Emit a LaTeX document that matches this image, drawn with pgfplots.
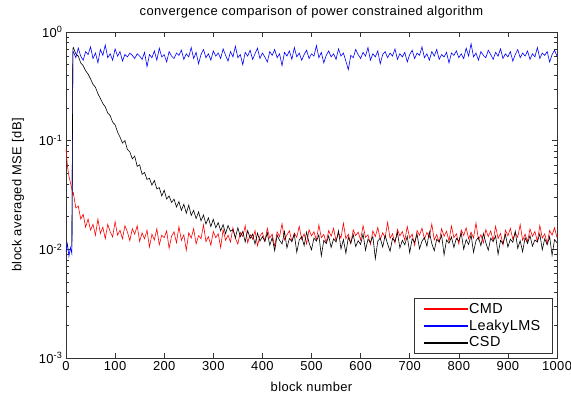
\documentclass[border=0pt]{standalone}
\usepackage{pgfplots}
\pgfplotsset{compat=1.18}
\usepackage{pgfplotstable}
\usepackage{fontspec}
\setmainfont[LetterSpace=3]{Liberation Sans}
\pgfplotstableread{
x cmd lms csd
0 0.085 0.0095 nan
3 0.058 0.0112 nan
6 0.047 0.0086 nan
9 0.041 0.0104 nan
12 0.036 0.0091 0.0105
14 0.032 0.64 0.70
15 0.033 0.66 0.72
20 0.024 0.58 0.63
25 0.025 0.71 0.60
30 0.019 0.60 0.52
35 0.021 0.55 0.49
40 0.016 0.66 0.44
45 0.019 0.62 0.41
50 0.015 0.73 0.37
55 0.017 0.57 0.33
60 0.0135 0.64 0.31
65 0.019 0.52 0.27
70 0.014 0.69 0.245
75 0.016 0.61 0.22
80 0.0125 0.76 0.205
85 0.017 0.58 0.18
90 0.0145 0.63 0.17
95 0.013 0.55 0.148
100 0.018 0.70 0.14
105 0.0135 0.60 0.12
110 0.015 0.66 0.108
115 0.0125 0.54 0.095
120 0.0165 0.62 0.1
125 0.0145 0.59 0.083
130 0.012 0.64 0.079
135 0.0155 0.61 0.068
140 0.0138 0.57 0.072
145 0.0165 0.63 0.058
150 0.0118 0.60 0.06
155 0.0142 0.56 0.049
160 0.0125 0.65 0.051
165 0.015 0.48 0.044
170 0.0105 0.62 0.045
175 0.0138 0.58 0.039
180 0.0122 0.67 0.043
185 0.0155 0.55 0.036
190 0.011 0.71 0.037
195 0.0135 0.59 0.031
200 0.0128 0.62 0.035
205 0.0148 0.53 0.029
210 0.0102 0.66 0.031
215 0.0132 0.60 0.027
220 0.0145 0.57 0.029
225 0.0115 0.64 0.0245
230 0.0162 0.61 0.0275
235 0.0121 0.68 0.0228
240 0.0136 0.56 0.026
245 0.0098 0.63 0.0215
250 0.0142 0.59 0.0255
255 0.0127 0.72 0.0205
260 0.0155 0.57 0.0228
265 0.0112 0.65 0.0192
270 0.0134 0.51 0.0221
275 0.0125 0.62 0.0183
280 0.0168 0.69 0.0207
285 0.0118 0.58 0.0171
290 0.0131 0.63 0.0195
295 0.0109 0.55 0.0162
300 0.0146 0.67 0.0189
305 0.0128 0.60 0.0158
310 0.0139 0.64 0.0176
315 0.0104 0.57 0.0148
320 0.0152 0.70 0.0169
325 0.0121 0.61 0.0139
330 0.0135 0.54 0.0166
335 0.0117 0.66 0.0147
340 0.0158 0.59 0.0152
345 0.0126 0.74 0.0128
350 0.0112 0.58 0.0158
355 0.0143 0.62 0.0131
360 0.0131 0.50 0.0146
365 0.0165 0.65 0.0117
370 0.0115 0.60 0.0149
375 0.0137 0.68 0.0126
380 0.0124 0.56 0.0138
385 0.0149 0.63 0.0112
390 0.0108 0.71 0.0141
395 0.0133 0.57 0.0119
400 0.0142 0.64 0.0131
405 0.0119 0.59 0.0118
410 0.0156 0.53 0.0142
415 0.0127 0.66 0.0109
420 0.0138 0.61 0.0128
425 0.0106 0.69 0.0097
430 0.0145 0.58 0.0135
435 0.0131 0.63 0.0121
440 0.0172 0.49 0.0112
445 0.0122 0.65 0.0146
450 0.0136 0.60 0.0103
455 0.0148 0.67 0.0126
460 0.0118 0.56 0.0118
465 0.0141 0.72 0.0138
470 0.0129 0.59 0.0094
475 0.0163 0.64 0.0122
480 0.0124 0.55 0.0131
485 0.0139 0.62 0.0108
490 0.0112 0.68 0.0144
495 0.0152 0.57 0.0115
500 0.0133 0.63 0.0099
505 0.0145 0.60 0.0127
510 0.0121 0.75 0.0119
515 0.0168 0.58 0.0136
520 0.0128 0.65 0.0087
525 0.0137 0.52 0.0121
530 0.0115 0.61 0.0113
535 0.0149 0.67 0.0133
540 0.0132 0.59 0.0104
545 0.0156 0.63 0.0125
550 0.0119 0.56 0.0117
555 0.0141 0.70 0.0148
560 0.0127 0.60 0.0101
565 0.0174 0.64 0.0123
570 0.0125 0.54 0.0092
575 0.0138 0.45 0.0129
580 0.0113 0.61 0.0114
585 0.0151 0.58 0.0137
590 0.0134 0.69 0.0106
595 0.0144 0.62 0.0120
600 0.0122 0.57 0.0111
605 0.0165 0.65 0.0139
610 0.0129 0.60 0.0098
615 0.0136 0.72 0.0124
620 0.0111 0.55 0.0116
625 0.0148 0.63 0.0131
630 0.0131 0.59 0.0082
635 0.0159 0.67 0.0119
640 0.0123 0.51 0.0127
645 0.0142 0.62 0.0105
650 0.0128 0.66 0.0134
655 0.0177 0.58 0.0112
660 0.0126 0.64 0.0096
665 0.0139 0.60 0.0126
670 0.0114 0.70 0.0118
675 0.0153 0.56 0.0143
680 0.0133 0.63 0.0103
685 0.0146 0.59 0.0121
690 0.0121 0.65 0.0110
695 0.0162 0.53 0.0132
700 0.0127 0.62 0.0093
705 0.0138 0.68 0.0125
710 0.0109 0.57 0.0116
715 0.0149 0.64 0.0138
720 0.0135 0.61 0.0101
725 0.0157 0.73 0.0119
730 0.0124 0.58 0.0128
735 0.0143 0.63 0.0107
740 0.0129 0.55 0.0145
745 0.0171 0.66 0.0113
750 0.0122 0.60 0.0097
755 0.0137 0.69 0.0124
760 0.0116 0.56 0.0117
765 0.0155 0.62 0.0135
770 0.0132 0.59 0.0089
775 0.0147 0.65 0.0122
780 0.0119 0.52 0.0114
785 0.0164 0.64 0.0130
790 0.0128 0.61 0.0104
795 0.0139 0.67 0.0126
800 0.0112 0.58 0.0119
805 0.0151 0.63 0.0141
810 0.0134 0.57 0.0100
815 0.0158 0.71 0.0123
820 0.0125 0.60 0.0111
825 0.0144 0.78 0.0136
830 0.0127 0.59 0.0094
835 0.0175 0.64 0.0120
840 0.0123 0.55 0.0129
845 0.0136 0.66 0.0108
850 0.0115 0.61 0.0140
855 0.0152 0.58 0.0115
860 0.0131 0.68 0.0098
865 0.0148 0.62 0.0127
870 0.0120 0.56 0.0118
875 0.0163 0.65 0.0133
880 0.0126 0.60 0.0090
885 0.0140 0.70 0.0121
890 0.0110 0.57 0.0112
895 0.0150 0.63 0.0137
900 0.0133 0.59 0.0105
905 0.0156 0.66 0.0124
910 0.0124 0.54 0.0116
915 0.0142 0.62 0.0147
920 0.0129 0.69 0.0102
925 0.0169 0.58 0.0120
930 0.0121 0.64 0.0095
935 0.0138 0.60 0.0128
940 0.0117 0.67 0.0113
945 0.0154 0.56 0.0134
950 0.0132 0.63 0.0107
955 0.0146 0.59 0.0122
960 0.0118 0.72 0.0117
965 0.0166 0.57 0.0139
970 0.0127 0.64 0.0099
975 0.0139 0.61 0.0125
980 0.0113 0.66 0.0110
985 0.0149 0.53 0.0131
990 0.0135 0.62 0.0088
995 0.0158 0.68 0.0123
1000 0.0128 0.60 0.0115
}\msedata
\begin{document}
\begin{tikzpicture}
\useasboundingbox (-66bp,-40bp) rectangle (505bp,358bp);
\begin{axis}[
  at={(0,0)}, anchor=south west,
  scale only axis, width=491bp, height=326bp,
  ymode=log, xmin=0, xmax=1000, ymin=1e-3, ymax=1,
  xtick={0,100,...,1000},
  ytick={1e-3,1e-2,1e-1,1},
  yticklabels={10\textsuperscript{-3},10\textsuperscript{-2},10\textsuperscript{-1},10\textsuperscript{0}},
  /pgf/number format/assume math mode=true,
  /pgf/number format/1000 sep={},
  tick align=inside,
  major tick length=5bp, minor tick length=3bp,
  axis line style={line width=0.6bp, black!80},
  every tick/.style={black!80, line width=0.5bp},
  tick label style={font=\fontsize{13}{15}\selectfont},
  label style={font=\fontsize{13}{15}\selectfont},
  every axis title/.style={font=\fontsize{13}{15}\selectfont, at={(axis description cs:0.5,1)}, anchor=base, yshift=16bp},
  title={convergence comparison of power constrained algorithm},
  xlabel={block number},
  ylabel={block averaged MSE [dB]},
  xlabel style={at={(axis description cs:0.5,-0.089)}, anchor=center},
  ylabel style={at={(axis description cs:-0.0978,0.5)}, anchor=center},
  legend style={at={(0.991,0.0153)}, anchor=south east, draw=black!80,
    font=\fontsize{14.5}{16}\selectfont, legend cell align=left,
    inner xsep=10bp, inner ysep=2bp, row sep=0bp,
    nodes={fill=none, inner ysep=2.5bp}},
  legend image code/.code={\fill[#1] (0bp,-0.45bp) rectangle (43bp,0.45bp);},
  unbounded coords=discard,
]
\addplot[color=red, line width=0.6bp, no markers, forget plot] table[x=x, y=cmd] {\msedata};
\addplot[color=blue, line width=0.6bp, no markers, forget plot] table[x=x, y=lms] {\msedata};
\addplot[color=black, line width=0.6bp, no markers, forget plot] table[x=x, y=csd] {\msedata};
\addlegendimage{color=red}
\addlegendentry{CMD}
\addlegendimage{color=blue}
\addlegendentry{LeakyLMS}
\addlegendimage{color=black}
\addlegendentry{CSD}
\end{axis}
\end{tikzpicture}
\end{document}
